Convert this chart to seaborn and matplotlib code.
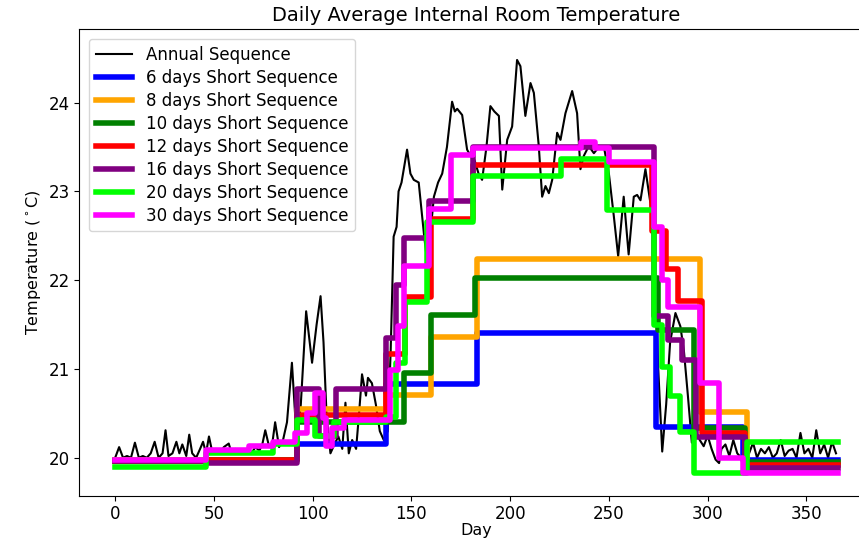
import matplotlib
matplotlib.use("Agg")
import matplotlib.pyplot as plt
import seaborn as sns

# ------------------------------------------
# Data
# ------------------------------------------
# Annual sequence: (day, temperature) points
annual_day = [0, 2, 4, 6, 8, 10, 12, 14, 16, 18, 20, 22, 24, 25.5, 27, 29, 31, 32.5, 34, 36,
              37.5, 39, 41, 43, 44.5, 46, 47.5, 49, 51, 53, 55, 57.5, 59, 61, 63, 65, 67.5, 69,
              71, 73, 74.5, 76, 78, 79.5, 81, 83, 85, 87, 89.5, 92, 94, 96.7, 98, 99.7, 102, 104,
              105.5, 107, 109, 111, 113, 115, 116.6, 118.3, 120, 122, 123.5, 125, 127, 128, 130,
              132, 134, 136, 138, 139.5, 141, 142.5, 143.5, 145, 147.8, 149.5, 151.2, 153.7,
              156.3, 158, 159.5, 161.4, 163.5, 165.6, 168, 170.6, 172, 173.2, 175.7, 178.2, 180,
              182, 184, 185.8, 188, 190, 192, 194.3, 196, 198.5, 201, 203.5, 205.2, 207.7, 210.3,
              212, 214.5, 216.2, 217.9, 219.6, 221.3, 223.8, 225.5, 228, 231.4, 233.9, 235.6,
              237.3, 239.8, 242.4, 244.9, 247.4, 250, 252.5, 254.7, 257.5, 260, 262.6, 264.3,
              266, 268.5, 271, 273, 275, 277, 279, 281, 283.7, 286.2, 288, 290, 292, 294, 296,
              298, 300, 302, 304, 305.8, 307, 309, 311, 313, 315, 317, 319, 321, 323, 325, 327,
              329, 331, 333, 335, 337, 339, 341, 343, 345, 347, 349, 351, 353, 355, 357, 359,
              361, 363, 365]
annual_temp = [20.0, 20.12, 20.0, 20.02, 20.0, 20.17, 20.0, 20.02, 20.0, 20.05, 20.18, 20.0,
               20.05, 20.31, 20.02, 20.05, 20.18, 20.05, 20.15, 20.02, 20.26, 20.05, 20.0, 20.1,
               20.18, 20.05, 20.24, 20.08, 20.1, 20.05, 20.12, 20.16, 20.05, 20.1, 20.05, 20.08,
               20.1, 20.05, 20.12, 20.08, 20.15, 20.31, 20.12, 20.15, 20.4, 20.12, 20.2, 20.4,
               21.07, 20.17, 20.6, 21.65, 21.4, 21.07, 21.5, 21.82, 21.3, 20.5, 20.05, 20.15,
               20.24, 20.1, 20.62, 20.05, 20.2, 20.1, 20.5, 20.94, 20.7, 20.9, 20.84, 20.6, 20.3,
               20.2, 20.3, 21.2, 22.49, 22.6, 23.0, 23.1, 23.47, 23.2, 23.13, 23.1, 22.53, 22.2,
               22.5, 22.94, 23.1, 23.2, 23.5, 24.01, 23.9, 23.93, 23.86, 23.47, 23.4, 23.35,
               23.2, 23.13, 23.5, 23.96, 23.9, 23.85, 23.02, 23.58, 23.73, 24.48, 24.41, 23.85,
               24.22, 24.11, 23.51, 22.94, 23.06, 22.98, 23.13, 23.66, 23.58, 23.88, 24.13,
               23.88, 23.25, 23.4, 23.51, 23.43, 23.5, 23.51, 23.2, 22.72, 22.27, 22.94, 22.29,
               22.94, 22.96, 22.9, 23.25, 22.87, 22.3, 21.0, 20.07, 20.6, 21.3, 21.63, 21.48,
               21.2, 20.7, 20.17, 20.3, 20.2, 20.13, 20.25, 20.1, 19.98, 19.94, 20.1, 20.15,
               20.02, 20.2, 20.05, 20.0, 20.15, 20.05, 20.17, 20.0, 20.1, 20.05, 20.12, 20.0,
               20.05, 20.2, 20.02, 20.08, 20.1, 20.0, 20.28, 20.05, 20.1, 20.0, 20.31, 20.05,
               20.15, 20.0, 20.18, 20.05]

# Short sequences: first day of each step and the step level
seq6_start = [0, 92, 137, 183, 274, 318]
seq6_temp = [19.97, 20.15, 20.83, 21.4, 20.35, 19.98]

seq8_start = [0, 46, 92, 137, 160, 183, 296, 320]
seq8_temp = [19.97, 19.98, 20.55, 20.71, 21.36, 22.24, 20.52, 19.94]

seq10_start = [0, 46, 92, 146, 160, 182, 275, 293, 319]
seq10_temp = [19.96, 19.97, 20.4, 20.96, 21.61, 22.03, 21.44, 20.34, 19.95]

seq12_start = [0, 46, 92, 137, 147, 160, 181, 272, 279, 285, 297, 319]
seq12_temp = [19.96, 19.97, 20.48, 21.17, 21.81, 22.69, 23.3, 22.55, 22.13, 21.76, 20.28, 19.92]

seq16_start = [0, 46, 92, 103, 112, 137, 142, 146, 159, 181, 273, 280, 287, 294, 319]
seq16_temp = [19.96, 19.94, 20.78, 20.25, 20.78, 21.35, 21.95, 22.47, 22.89, 23.5, 21.6,
              21.33, 21.1, 20.23, 19.88]

seq20_start = [0, 46, 80, 92, 101, 111, 137, 142, 147, 158, 181, 226, 249, 273, 277, 281,
               286, 293, 320]
seq20_temp = [19.9, 20.05, 20.15, 20.43, 20.24, 20.4, 20.46, 21.07, 21.75, 22.65, 23.17, 23.36,
              22.79, 21.5, 21.02, 20.69, 20.29, 19.83, 20.18]

seq30_start = [0, 46, 68, 80, 91, 97, 101, 105, 107, 110, 116, 139, 143, 146, 159, 170, 181,
               236, 243, 250, 273, 277, 280, 296, 306, 318]
seq30_temp = [19.98, 20.09, 20.13, 20.18, 20.28, 20.5, 20.73, 20.45, 20.13, 20.34, 20.43,
              20.99, 21.48, 22.16, 22.8, 23.41, 23.49, 23.56, 23.49, 23.33, 22.6, 22.0, 21.7,
              20.84, 20.0, 19.83]

last_day = 366

short_sequences = [
    ("6 days Short Sequence", "blue", seq6_start, seq6_temp),
    ("8 days Short Sequence", "orange", seq8_start, seq8_temp),
    ("10 days Short Sequence", "green", seq10_start, seq10_temp),
    ("12 days Short Sequence", "red", seq12_start, seq12_temp),
    ("16 days Short Sequence", "purple", seq16_start, seq16_temp),
    ("20 days Short Sequence", "lime", seq20_start, seq20_temp),
    ("30 days Short Sequence", "magenta", seq30_start, seq30_temp),
]

# ------------------------------------------
# Plot
# ------------------------------------------
fig = plt.figure(figsize=(8.59, 5.45), dpi=100)
ax = fig.add_axes([0.092, 0.09, 0.9256, 0.857])

sns.lineplot(x=annual_day, y=annual_temp, color="black", lw=1.5,
             label="Annual Sequence", estimator=None, sort=False, ax=ax)

for label, color, starts, temps in short_sequences:
    xs = starts + [last_day]
    ys = temps + [temps[-1]]
    sns.lineplot(x=xs, y=ys, color=color, lw=4, label=label,
                 drawstyle="steps-post", estimator=None, sort=False, ax=ax)

ax.set_xlim(-18.3, 384.3)
ax.set_ylim(19.57, 24.83)
ax.set_xticks([0, 50, 100, 150, 200, 250, 300, 350])
ax.set_yticks([20, 21, 22, 23, 24])
ax.tick_params(labelsize=12, pad=3)
ax.set_title("Daily Average Internal Room Temperature", fontsize=14)
ax.set_xlabel("Day", fontsize=11.5, labelpad=0)
ax.set_ylabel(r"Temperature ($^\circ$C)", fontsize=11.5)
ax.legend(loc="upper left", fontsize=12, labelspacing=0.3, handlelength=2.2,
          borderaxespad=0.6)

fig.savefig("out.png", dpi=100)
plt.close(fig)
